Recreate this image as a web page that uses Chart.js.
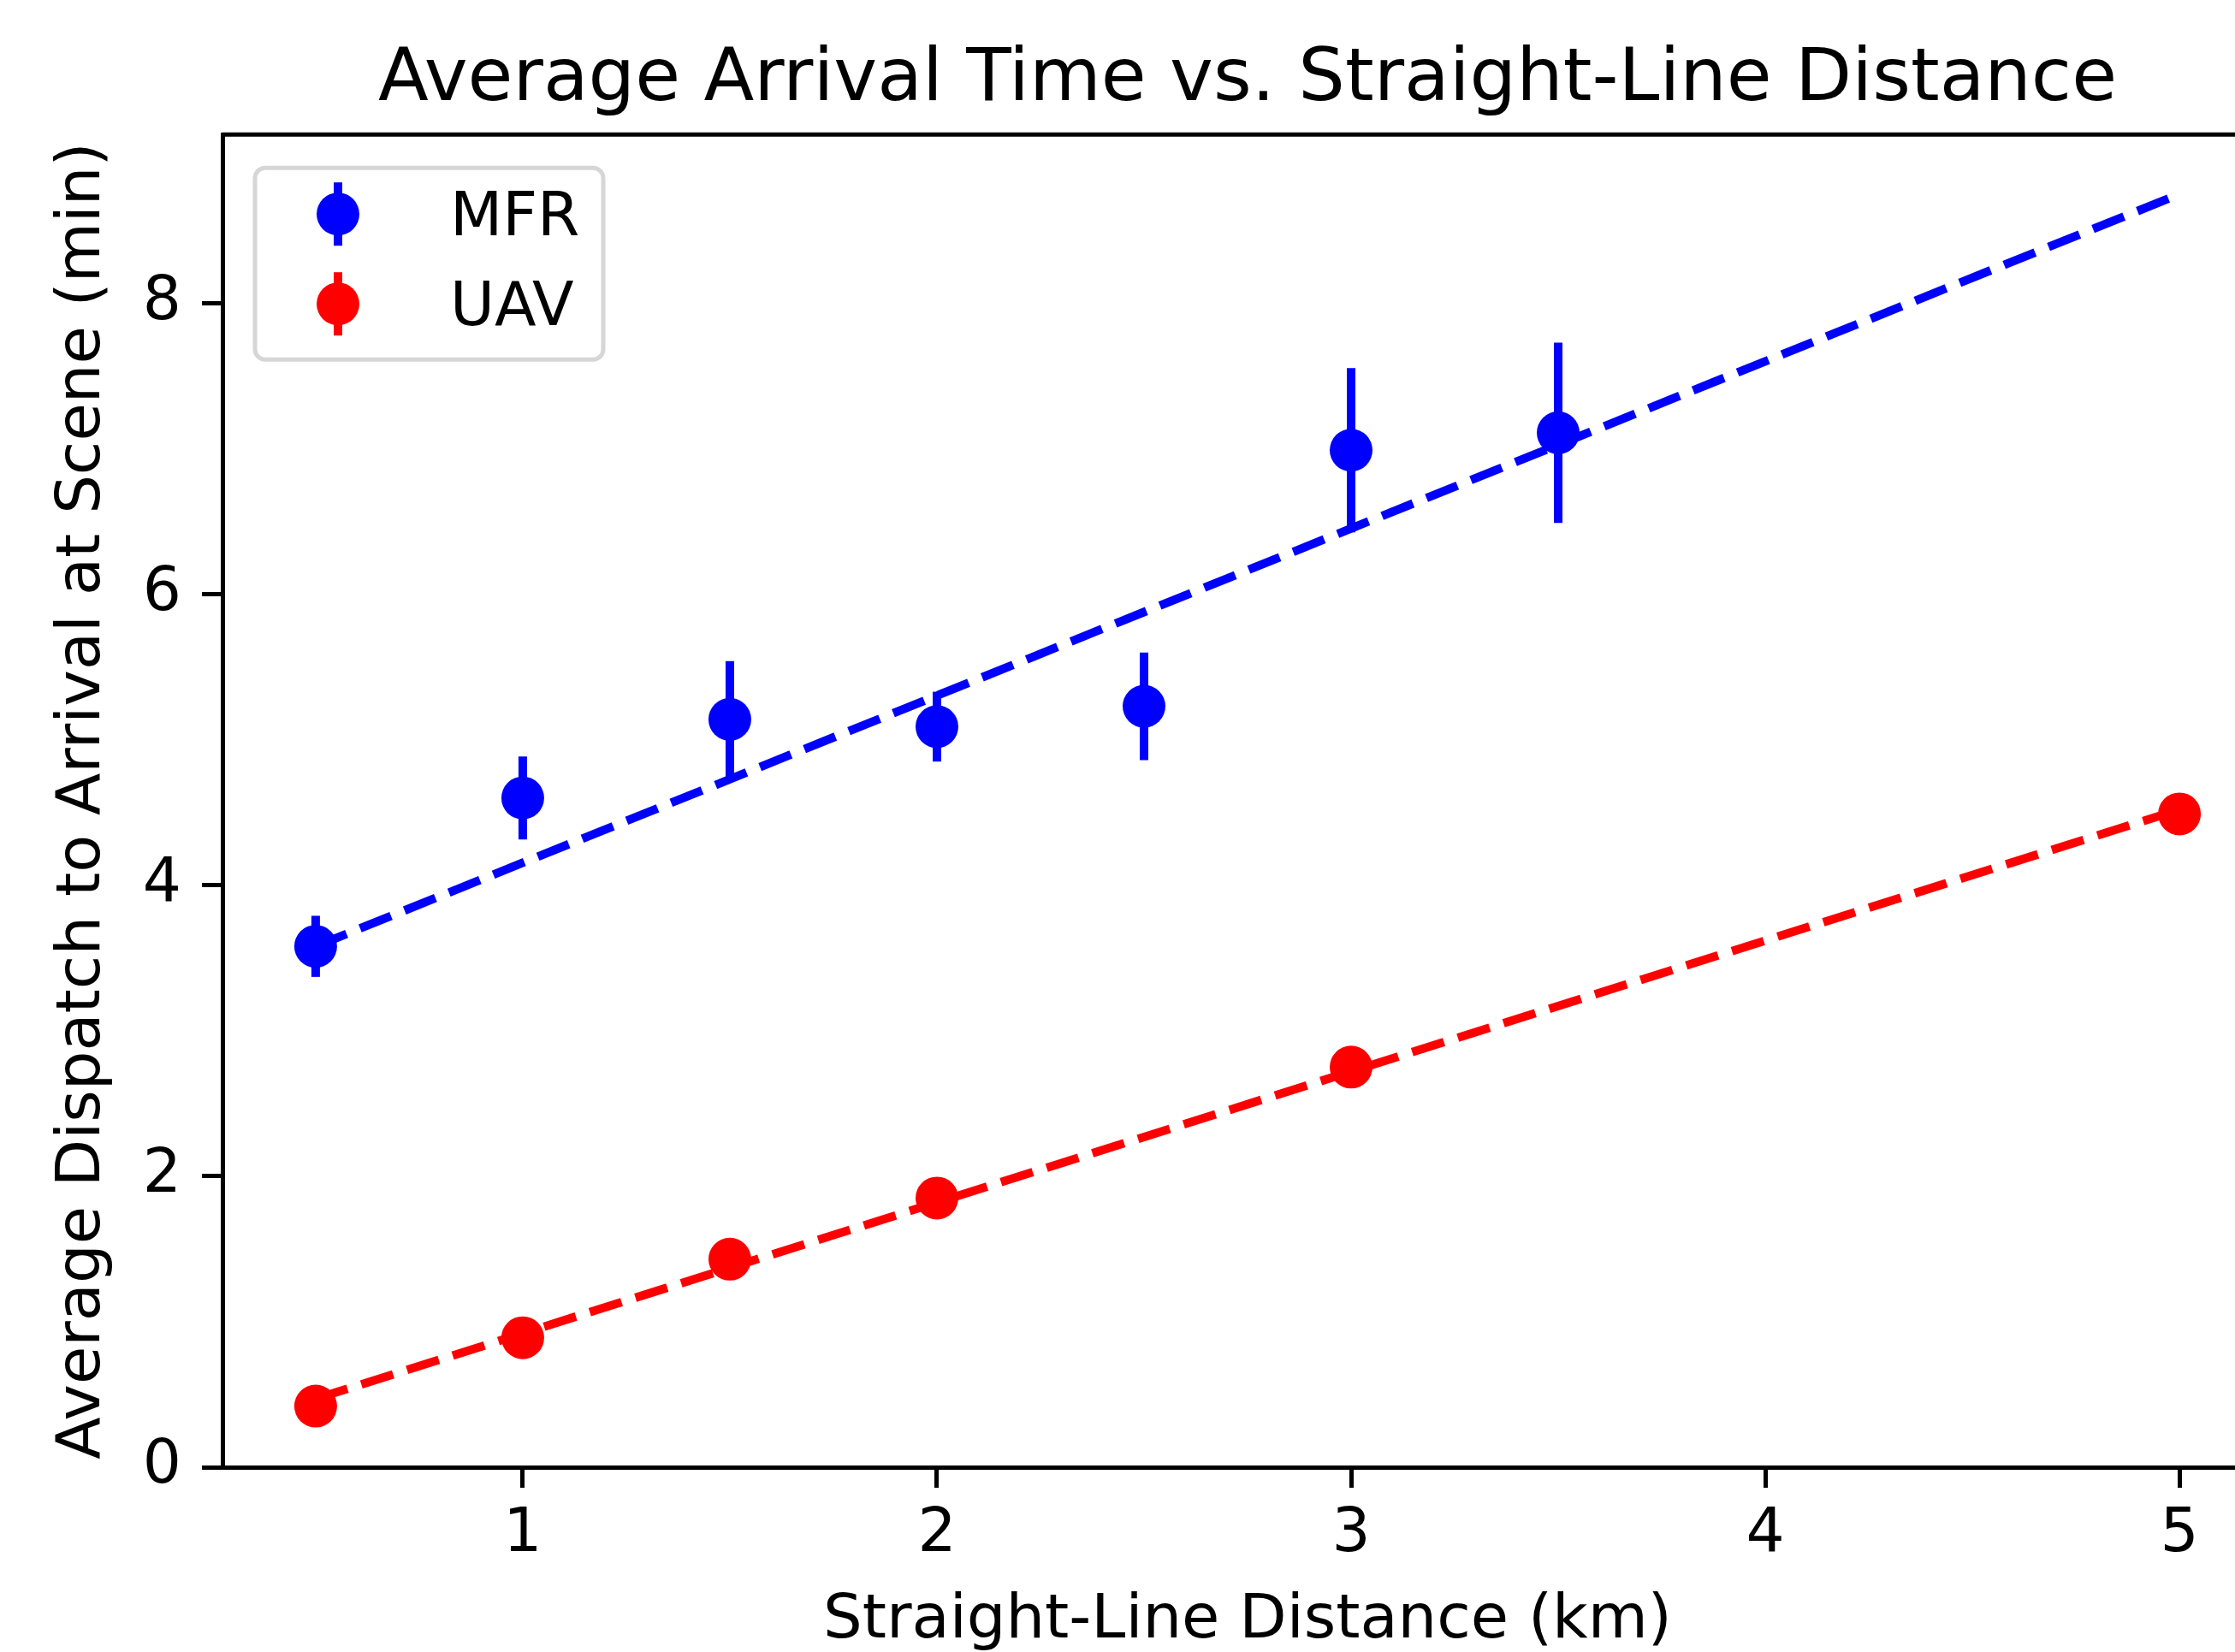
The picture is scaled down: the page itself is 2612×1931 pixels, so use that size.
<!DOCTYPE html>
<html>
<head>
<meta charset="utf-8">
<title>Average Arrival Time vs. Straight-Line Distance</title>
<script src="https://cdn.jsdelivr.net/npm/chart.js@4.4.1/dist/chart.umd.min.js"></script>
<style>
  html, body { margin: 0; padding: 0; background: #fff; overflow: hidden; }
  #wrap { width: 2612px; height: 1931px; overflow: hidden; position: relative; }
  #chart { display: block; }
</style>
</head>
<body>
<div id="wrap"><canvas id="chart" width="2700" height="1931"></canvas></div>
<script>
// MFR measurements (mean and symmetric error bar)
const mfrDistances = [0.5, 1, 1.5, 2, 2.5, 3, 3.5];
const mfrMeans = [3.58, 4.60, 5.14, 5.09, 5.23, 6.99, 7.11];
const mfrErrors = [0.21, 0.285, 0.40, 0.24, 0.37, 0.565, 0.62];

// UAV measurements
const uavDistances = [0.5, 1, 1.5, 2, 3, 5];
const uavMeans = [0.42, 0.89, 1.43, 1.85, 2.75, 4.49];
const uavErrors = [0, 0, 0, 0, 0, 0];

// fitted trend lines (endpoints)
const fitDistances = [0.5, 5];
const mfrFit = [3.58, 8.75];
const uavFit = [0.47, 4.52];

// tick labels
const xTicks = [1, 2, 3, 4, 5];
const yTicks = [0, 2, 4, 6, 8];

const FONT = '"DejaVu Sans", "Liberation Sans", sans-serif';
const BLUE = '#0000ff';
const RED = '#ff0000';

const toPoints = (xs, ys) => xs.map((x, i) => ({ x: x, y: ys[i] }));

// vertical error bars, drawn under each scatter dataset
const errorBars = {
  id: 'errorBars',
  beforeDatasetDraw(chart, args) {
    const ds = chart.data.datasets[args.index];
    if (!ds.errors) return;
    const { ctx, scales: { x, y } } = chart;
    ctx.save();
    ctx.strokeStyle = ds.backgroundColor;
    ctx.lineWidth = 10;
    ctx.lineCap = 'butt';
    ds.data.forEach((p, i) => {
      const e = ds.errors[i];
      if (!e) return;
      const px = x.getPixelForValue(p.x);
      ctx.beginPath();
      ctx.moveTo(px, y.getPixelForValue(p.y - e));
      ctx.lineTo(px, y.getPixelForValue(p.y + e));
      ctx.stroke();
    });
    ctx.restore();
  }
};

// top spine + matplotlib-style legend box
const frameAndLegend = {
  id: 'frameAndLegend',
  afterDraw(chart) {
    const { ctx, chartArea: a } = chart;
    ctx.save();
    ctx.strokeStyle = '#000';
    ctx.lineWidth = 5;
    ctx.beginPath();
    ctx.moveTo(a.left, a.top);
    ctx.lineTo(a.right, a.top);
    ctx.lineTo(a.right, a.bottom);
    ctx.stroke();

    const bx = a.left + 38, by = a.top + 39, bw = 407, bh = 224, r = 12;
    ctx.beginPath();
    ctx.moveTo(bx + r, by);
    ctx.arcTo(bx + bw, by, bx + bw, by + bh, r);
    ctx.arcTo(bx + bw, by + bh, bx, by + bh, r);
    ctx.arcTo(bx, by + bh, bx, by, r);
    ctx.arcTo(bx, by, bx + bw, by, r);
    ctx.closePath();
    ctx.fillStyle = 'rgba(255,255,255,0.8)';
    ctx.fill();
    ctx.strokeStyle = '#d6d6d6';
    ctx.lineWidth = 5;
    ctx.stroke();

    const entries = chart.data.datasets.filter(d => d.errors);
    entries.forEach((d, i) => {
      const cy = by + 54 + i * 105;
      const cx = bx + 97;
      ctx.strokeStyle = d.backgroundColor;
      ctx.lineWidth = 10;
      ctx.beginPath();
      ctx.moveTo(cx, cy - 37);
      ctx.lineTo(cx, cy + 37);
      ctx.stroke();
      ctx.fillStyle = d.backgroundColor;
      ctx.beginPath();
      ctx.arc(cx, cy, 25, 0, Math.PI * 2);
      ctx.fill();
      ctx.fillStyle = '#000';
      ctx.font = '71px ' + FONT;
      ctx.textBaseline = 'alphabetic';
      ctx.textAlign = 'left';
      ctx.fillText(d.label, bx + 228, cy + 25);
    });
    ctx.restore();
  }
};

new Chart(document.getElementById('chart').getContext('2d'), {
  data: {
    datasets: [
      {
        type: 'line', label: 'MFR fit', data: toPoints(fitDistances, mfrFit),
        borderColor: BLUE, borderWidth: 10, borderDash: [39, 17],
        pointRadius: 0, fill: false, order: 3
      },
      {
        type: 'line', label: 'UAV fit', data: toPoints(fitDistances, uavFit),
        borderColor: RED, borderWidth: 10, borderDash: [39, 17],
        pointRadius: 0, fill: false, order: 4
      },
      {
        type: 'scatter', label: 'MFR', data: toPoints(mfrDistances, mfrMeans),
        errors: mfrErrors, backgroundColor: BLUE, borderWidth: 0,
        pointRadius: 25, pointHoverRadius: 25, order: 1
      },
      {
        type: 'scatter', label: 'UAV', data: toPoints(uavDistances, uavMeans),
        errors: uavErrors, backgroundColor: RED, borderWidth: 0,
        pointRadius: 25, pointHoverRadius: 25, order: 2
      }
    ]
  },
  options: {
    responsive: false,
    devicePixelRatio: 1,
    animation: false,
    events: [],
    layout: { padding: { left: 0, right: 44, top: 0, bottom: 0 } },
    plugins: {
      legend: { display: false },
      tooltip: { enabled: false },
      title: {
        display: true,
        text: 'Average Arrival Time vs. Straight-Line Distance',
        color: '#000',
        fullSize: false,
        font: { family: FONT, size: 86, weight: 'normal' },
        padding: { top: 43, bottom: 11 }
      }
    },
    scales: {
      x: {
        type: 'linear',
        min: 0.275, max: 5.225,
        afterFit(s) { s.height = 216; },
        afterBuildTicks(s) { s.ticks = xTicks.map(v => ({ value: v })); },
        grid: { drawOnChartArea: false, drawTicks: true, tickLength: 24, tickWidth: 5, tickColor: '#000' },
        border: { display: true, color: '#000', width: 5 },
        ticks: { color: '#000', padding: 13, font: { family: FONT, size: 71 }, maxRotation: 0 },
        title: {
          display: true, text: 'Straight-Line Distance (km)', color: '#000',
          font: { family: FONT, size: 72, lineHeight: 1 }, padding: { top: 0, bottom: 0 }
        }
      },
      y: {
        type: 'linear',
        min: 0, max: 9.16,
        afterFit(s) { s.width = 260; },
        afterBuildTicks(s) { s.ticks = yTicks.map(v => ({ value: v })); },
        grid: { drawOnChartArea: false, drawTicks: true, tickLength: 24, tickWidth: 5, tickColor: '#000' },
        border: { display: true, color: '#000', width: 5 },
        ticks: { color: '#000', padding: 24, font: { family: FONT, size: 71 } },
        title: {
          display: true, text: 'Average Dispatch to Arrival at Scene (min)', color: '#000',
          font: { family: FONT, size: 72 }, padding: { top: 54, bottom: 0 }
        }
      }
    }
  },
  plugins: [errorBars, frameAndLegend]
});
</script>
</body>
</html>
